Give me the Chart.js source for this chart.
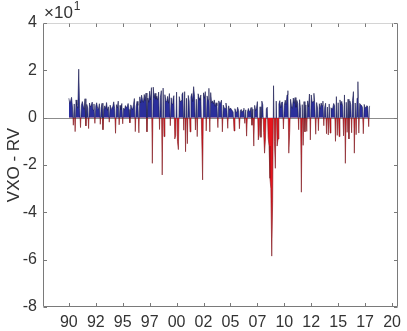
<!DOCTYPE html>
<html>
<head>
<meta charset="utf-8">
<script src="https://cdn.jsdelivr.net/npm/chart.js@4"></script>
<style>
html,body{margin:0;padding:0;background:#fff;}
#wrap{width:407px;height:331px;position:relative;}
</style>
</head>
<body>
<div id="wrap"><canvas id="c" width="407" height="331"></canvas></div>
<script>
// ---- data (monthly, VXO - RV) ----
const startYear = 1990;
const y1990 = [8.2, 6.0, 7.1, 8.6, 4.5, -3.2, 5.8, -5.9, 7.5, 5.2, 4.0, 20.5];
const y1991 = [3.8, -4.2, 5.2, 6.8, 4.9, 3.6, 8.0, -3.5, 5.6, 4.1, -4.6, 6.2];
const y1992 = [4.5, 5.3, 6.6, 3.2, 5.8, -2.4, 4.9, 6.3, 4.0, 3.7, 5.9, -2.8];
const y1993 = [4.2, 6.1, -5.1, 3.4, 5.0, 3.8, 6.4, 3.1, 4.6, -1.9, 5.3, 3.6];
const y1994 = [4.1, 4.8, 6.7, 3.9, -6.6, 5.5, 4.1, 7.0, -3.0, 5.2, 3.4, 6.0];
const y1995 = [-2.6, 4.0, 3.2, 5.1, 4.3, 4.6, 6.0, 3.5, -2.2, 5.4, 4.2, 3.3];
const y1996 = [5.6, 8.1, -5.9, 4.8, 6.9, 5.2, -6.4, 8.8, 6.2, 9.5, 7.6, 6.5];
const y1997 = [9.8, 7.2, 10.4, -6.0, 8.3, 6.5, 11.2, 7.5, 12.7, -19.3, 12.9, 8.4];
const y1998 = [10.3, 7.8, 9.1, 7.4, 10.8, -5.0, 8.6, 11.4, -24.2, 12.5, -8.0, 9.7];
const y1999 = [7.2, 6.6, 9.0, 6.1, 10.2, -3.4, 8.4, 5.8, 7.8, 9.3, -9.0, -7.5];
const y2000 = [10.8, -10.1, -13.5, 8.9, 6.6, 7.2, 9.8, 10.6, -5.3, 11.0, -14.4, 8.2];
const y2001 = [-11.0, 9.4, 7.1, -6.0, 8.8, 10.2, 6.8, 13.1, 9.0, -5.2, 7.8, -8.0];
const y2002 = [10.1, 8.4, 7.4, 9.6, -7.8, -26.3, 10.5, 8.2, 11.0, -5.6, 9.2, 7.4];
const y2003 = [12.4, -6.0, 10.6, 6.2, 7.1, 5.8, 7.5, 4.8, 6.3, 5.1, -4.2, 7.1];
const y2004 = [6.0, 6.2, 7.4, -6.0, 5.3, 4.1, 3.9, 6.2, 3.8, -4.5, 5.0, 3.2];
const y2005 = [4.1, 3.6, 3.0, 2.4, -5.6, 3.8, 2.6, 2.1, 4.4, 3.1, -4.7, 2.9];
const y2006 = [3.5, 2.2, 3.0, 4.0, -2.4, 3.3, -7.8, 2.5, 3.9, 2.6, 2.8, 4.3];
const y2007 = [-3.2, 3.6, -12.0, 5.2, 2.9, 4.1, 6.8, -9.4, -7.5, 4.6, -8.3, 7.0];
const y2008 = [5.5, -6.3, -15.0, -9.0, 3.8, 4.4, -8.5, -12.0, -25.6, -30.0, -58.5, -36.0];
const y2009 = [13.5, -10.0, -21.4, 7.0, -12.0, -9.0, 5.8, 7.2, 4.1, 6.5, 6.6, -4.8];
const y2010 = [5.2, 7.4, 5.5, 9.6, 11.4, -15.0, -6.2, 7.8, 5.0, 3.9, 8.3, 6.1];
const y2011 = [8.5, 4.4, 7.3, 6.0, -5.1, 7.6, 4.2, -31.5, 5.5, -11.7, 6.8, -6.0];
const y2012 = [5.4, -5.8, 7.1, 4.6, 10.0, -9.4, 9.6, 6.5, 6.8, 10.3, 5.2, -7.0];
const y2013 = [6.4, 4.1, -5.5, 5.9, 3.6, 6.2, 5.0, 7.0, -3.4, 4.4, 6.1, -6.8];
const y2014 = [4.5, -7.3, 5.8, -6.5, 4.2, 3.5, 4.1, 6.0, 5.1, -10.0, 8.9, -7.5];
const y2015 = [6.3, -8.0, 7.5, 5.4, 6.9, 4.8, -7.7, 9.6, -19.3, 6.5, -6.2, 7.8];
const y2016 = [-9.0, 7.1, 5.5, -6.4, 7.3, 11.0, -15.0, 6.2, -7.2, 8.2, 15.2, -6.5];
const y2017 = [6.0, 5.5, 5.2, 4.4, -6.8, 5.6, 3.9, 4.6, 5.1, 4.5, -3.8, 5.0];

const years = [y1990,y1991,y1992,y1993,y1994,y1995,y1996,y1997,y1998,y1999,
               y2000,y2001,y2002,y2003,y2004,y2005,y2006,y2007,y2008,y2009,
               y2010,y2011,y2012,y2013,y2014,y2015,y2016,y2017];

const xTickValues = [1990, 1992.5, 1995, 1997.5, 2000, 2002.5, 2005, 2007.5, 2010, 2012.5, 2015, 2017.5, 2020];
const xTickLabels = ['90','92','95','97','00','02','05','07','10','12','15','17','20'];
const yTickValues = [40, 20, 0, -20, -40, -60, -80];
const yTickLabels = ['4','2','0','-2','-4','-6','-8'];
const yAxisTitle = 'VXO - RV';
const exponentBase = '\u00d710', exponentPower = '1';

// build points: month i of year k -> date startYear + k + i/12
const points = [];
years.forEach((arr, k) => arr.forEach((v, i) => points.push({x: startYear + k + i/12, y: v})));

const PLOT_LEFT = 43, PLOT_TOP = 23, PLOT_BOTTOM = 307;
const axisColor = '#7a7a7a';
const textColor = '#333333';
const family = 'Liberation Sans, Arial, Helvetica, sans-serif';
const font = {family: family, size: 16};
const lineAbove = '#14154a', lineBelow = '#7a1218';

const boxPlugin = {
  id: 'matlabBox',
  beforeDatasetsDraw(chart) {
    const {ctx, chartArea: a, scales: {y}} = chart;
    const y0 = Math.round(y.getPixelForValue(0)) + 0.5;
    ctx.save();
    ctx.strokeStyle = '#8c8c8c';
    ctx.lineWidth = 1;
    ctx.beginPath(); ctx.moveTo(a.left, y0); ctx.lineTo(a.right, y0); ctx.stroke();
    ctx.restore();
  },
  afterDatasetsDraw(chart) {
    const {ctx, chartArea: a, scales: {x, y}} = chart;
    ctx.save();
    ctx.lineWidth = 1;
    ctx.strokeStyle = axisColor;
    const L = Math.round(a.left) + 0.5, R = Math.round(a.right) - 0.5;
    const T = Math.round(a.top) + 0.5, B = Math.round(a.bottom) - 0.5;
    ctx.beginPath();
    ctx.moveTo(L, T); ctx.lineTo(L, B); ctx.lineTo(R, B); ctx.lineTo(R, T);
    ctx.stroke();
    ctx.strokeStyle = '#d4d4d4';
    ctx.beginPath(); ctx.moveTo(L, T); ctx.lineTo(R, T); ctx.stroke();
    ctx.strokeStyle = axisColor;
    const tl = 3.5;
    ctx.beginPath();
    x.ticks.forEach(t => {
      const px = Math.round(x.getPixelForValue(t.value)) + 0.5;
      ctx.moveTo(px, B); ctx.lineTo(px, B - tl);
      ctx.moveTo(px, T); ctx.lineTo(px, T + tl);
    });
    y.ticks.forEach(t => {
      const py = Math.round(y.getPixelForValue(t.value)) + 0.5;
      ctx.moveTo(L, py); ctx.lineTo(L + tl, py);
      ctx.moveTo(R, py); ctx.lineTo(R - tl, py);
    });
    ctx.stroke();
    ctx.restore();
  },
  afterDraw(chart) {
    const {ctx, chartArea: a} = chart;
    ctx.save();
    ctx.fillStyle = textColor;
    ctx.font = '17px ' + family;
    ctx.textBaseline = 'alphabetic';
    ctx.textAlign = 'left';
    ctx.fillText(exponentBase, a.left + 1, 18);
    const w = ctx.measureText(exponentBase).width;
    ctx.font = '12px ' + family;
    ctx.fillText(exponentPower, a.left + w + 2, 10);
    // y-axis title
    ctx.font = '17px ' + family;
    ctx.textAlign = 'center';
    ctx.textBaseline = 'middle';
    ctx.translate(14, (a.top + a.bottom) / 2);
    ctx.rotate(-Math.PI / 2);
    ctx.fillText(yAxisTitle, 0, 0);
    ctx.restore();
  }
};

function splitLineColor(context) {
  const ch = context.chart;
  const a = ch.chartArea;
  if (!a || !ch.scales.y) return lineAbove;
  const y0 = ch.scales.y.getPixelForValue(0);
  const f = Math.min(1, Math.max(0, (y0 - a.top) / (a.bottom - a.top)));
  const g = ch.ctx.createLinearGradient(0, a.top, 0, a.bottom);
  g.addColorStop(0, lineAbove);
  g.addColorStop(f, lineAbove);
  g.addColorStop(f, lineBelow);
  g.addColorStop(1, lineBelow);
  return g;
}

new Chart(document.getElementById('c'), {
  type: 'line',
  data: {
    datasets: [{
      data: points,
      borderColor: splitLineColor,
      borderWidth: 0.6,
      pointRadius: 0,
      tension: 0,
      fill: {target: 'origin', above: '#2b2f9c', below: '#e8141d'}
    }]
  },
  options: {
    responsive: false,
    animation: false,
    events: [],
    layout: {padding: {left: 0, top: PLOT_TOP, right: 4, bottom: 0}},
    plugins: {legend: {display: false}, tooltip: {enabled: false}},
    scales: {
      x: {
        type: 'linear',
        min: 1987.6,
        max: 2020.55,
        grid: {display: false, drawTicks: false},
        border: {display: false},
        afterBuildTicks: s => { s.ticks = xTickValues.map(v => ({value: v})); },
        afterFit: s => { s.height = 331 - PLOT_BOTTOM; },
        ticks: {
          autoSkip: false, maxRotation: 0, padding: 6,
          color: textColor, font: font,
          callback: (v, i) => xTickLabels[i]
        }
      },
      y: {
        type: 'linear',
        min: -80,
        max: 40,
        grid: {display: false, drawTicks: false},
        border: {display: false},
        afterBuildTicks: s => { s.ticks = yTickValues.map(v => ({value: v})); },
        afterFit: s => { s.width = PLOT_LEFT; },
        ticks: {
          autoSkip: false, padding: 6,
          color: textColor, font: font,
          callback: (v, i) => yTickLabels[i]
        }
      }
    }
  },
  plugins: [boxPlugin]
});
</script>
</body>
</html>
